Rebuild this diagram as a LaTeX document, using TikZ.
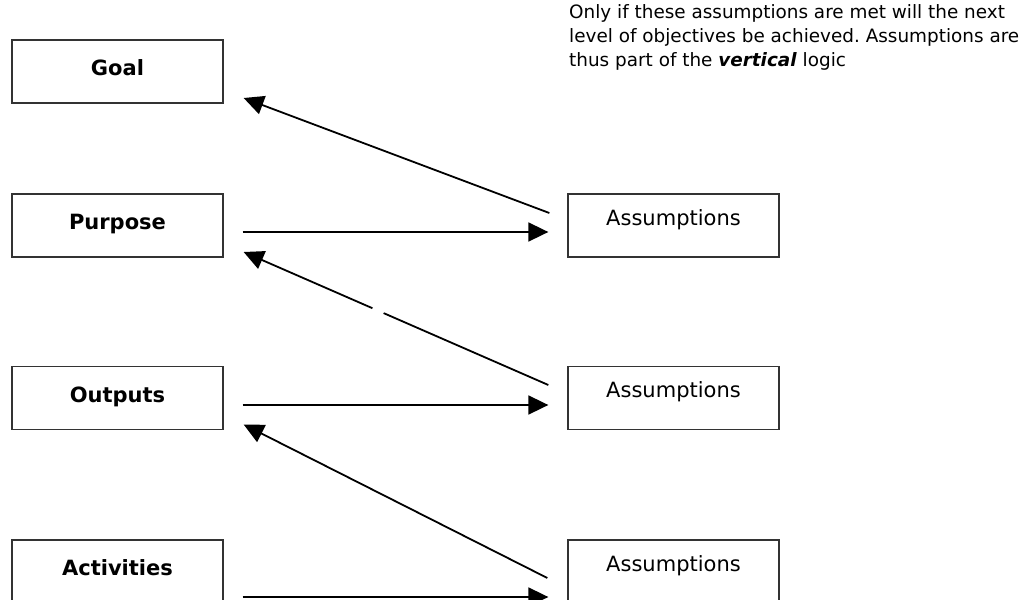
\documentclass[tikz,border=0pt]{standalone}
\usepackage{fontspec}
\setmainfont{DejaVu Sans}
\usetikzlibrary{arrows.meta,calc}
\frenchspacing
\begin{document}
\begin{tikzpicture}[x=1pt,y=-1pt,
  lbox/.style={draw=black!80, line width=1.3pt, minimum width=211pt, minimum height=63pt, inner sep=0pt, font=\fontsize{21}{25}\selectfont\bfseries, text height=15.3pt, text depth=7pt},
  abox/.style={draw=black!80, line width=1.3pt, minimum width=211pt, minimum height=63pt, inner sep=0pt, font=\fontsize{21}{25}\selectfont, text height=15.3pt, text depth=16pt},
  arr/.style={line width=1.8pt, -{Triangle[length=20pt,width=19pt]}},
  note/.style={anchor=north west, align=left, inner sep=0pt, font=\fontsize{18.4}{24}\selectfont}]
\useasboundingbox (0,0) rectangle (1021,600);
\clip (0,0) rectangle (1021,600);
\node[lbox] (goal) at (117.5,71.5) {Goal};
\node[lbox] (purpose) at (117.5,225.5) {Purpose};
\node[lbox] (outputs) at (117.5,398) {Outputs};
\node[lbox] (activities) at (117.5,571.5) {Activities};
\node[abox] (a1) at (673.5,225.5) {Assumptions};
\node[abox] (a2) at (673.5,398) {Assumptions};
\node[abox] (a3) at (673.5,571.5) {Assumptions};
\node[note] (txt) at (569,4) {Only if these assumptions are met will the next\\level of objectives be achieved. Assumptions are\\thus part of the \textbf{\textit{vertical}} logic};
% horizontal arrows
\draw[arr] ($(purpose.east)+(19,6.5)$) -- ($(a1.west)+(-19,6.5)$);
\draw[arr] ($(outputs.east)+(19,7)$) -- ($(a2.west)+(-19,7)$);
\draw[arr] ($(activities.east)+(19,25.5)$) -- ($(a3.west)+(-19,25.5)$);
% diagonal arrows
\draw[arr] ($(a1.west)+(-18,-12.5)$) -- ($(goal.east)+(20,26.5)$);
\draw[arr] ($(a2.west)+(-19,-13)$) coordinate (t2) -- ($(purpose.east)+(20,26.5)$) coordinate (h2);
\draw[arr] ($(a3.west)+(-20,6.5)$) -- ($(outputs.east)+(20,26.5)$);
% small break in the middle diagonal
\draw[white, line width=4pt] ($(t2)!0.541!(h2)$) -- ($(t2)!0.577!(h2)$);
\end{tikzpicture}
\end{document}
